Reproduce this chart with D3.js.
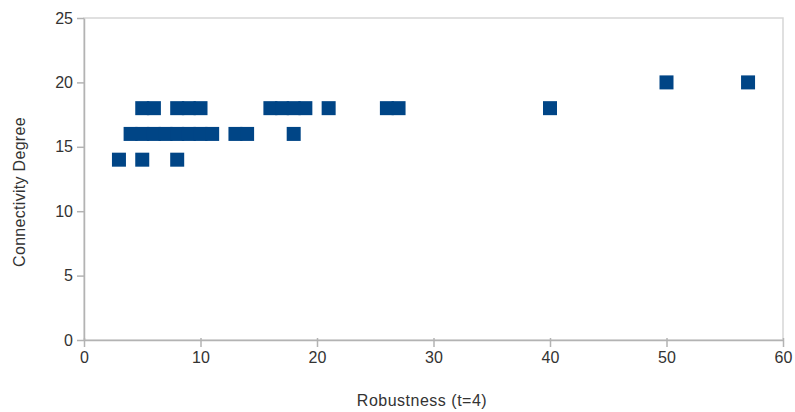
<!DOCTYPE html>
<html><head><meta charset="utf-8">
<script src="https://cdn.jsdelivr.net/npm/d3@7/dist/d3.min.js"></script>
<style>body{margin:0;background:#fff;} svg{display:block;font-family:"Liberation Sans",Arial,sans-serif;}</style>
</head><body>
<svg id="chart" width="795" height="412"></svg>
<script>
const robustness   = [3,5,8, 4,5,6,7,8,9,10,11,13,14,18, 5,6,8,9,10,16,17,18,19,21,26,27,40, 50,57];
const connectivity = [14,14,14, 16,16,16,16,16,16,16,16,16,16,16, 18,18,18,18,18,18,18,18,18,18,18,18,18, 20,20];
const xTicks = [0,10,20,30,40,50,60];
const yTicks = [0,5,10,15,20,25];
const xTitle = "Robustness (t=4)";
const yTitle = "Connectivity Degree";

const svg = d3.select("#chart");
const m = {left:84, right:783, top:18, bottom:340};
const x = d3.scaleLinear().domain([0,60]).range([m.left, m.right]);
const y = d3.scaleLinear().domain([0,25]).range([m.bottom, m.top]);

// frame
svg.append("rect").attr("x", m.left).attr("y", m.top).attr("width", m.right-m.left).attr("height", m.bottom-m.top)
  .attr("fill","none").attr("stroke","#d6d6d6").attr("stroke-width",1.5);

const xAxis = svg.append("g").attr("transform",`translate(0,${m.bottom})`)
  .call(d3.axisBottom(x).tickValues(xTicks).tickSize(7).tickSizeOuter(0).tickPadding(5));
const yAxis = svg.append("g").attr("transform",`translate(${m.left},0)`)
  .call(d3.axisLeft(y).tickValues(yTicks).tickSize(7).tickSizeOuter(0).tickPadding(4));
[xAxis,yAxis].forEach(a=>{
  a.select(".domain").attr("stroke","#b3b3b3").attr("stroke-width",1.5);
  a.selectAll(".tick line").attr("stroke","#b3b3b3").attr("stroke-width",1.5);
  a.selectAll(".tick text").attr("fill","#333").attr("font-size",16).attr("font-family","Liberation Sans, Arial, sans-serif");
});
xAxis.selectAll(".tick line").attr("y1",-2);

const s = 14;
svg.append("g").selectAll("rect").data(robustness.map((d,i)=>[d,connectivity[i]])).join("rect")
  .attr("x", d=>x(d[0])-s/2).attr("y", d=>y(d[1])-s/2).attr("width",s).attr("height",s)
  .attr("fill","#004586");

svg.append("text").attr("x", 422).attr("y", 406).attr("text-anchor","middle")
  .attr("font-size",16).attr("letter-spacing","0.5px").attr("fill","#333").text(xTitle);
svg.append("text").attr("transform","translate(25,192) rotate(-90)").attr("text-anchor","middle")
  .attr("font-size",16).attr("letter-spacing","0.3px").attr("fill","#333").text(yTitle);
</script>
</body></html>
